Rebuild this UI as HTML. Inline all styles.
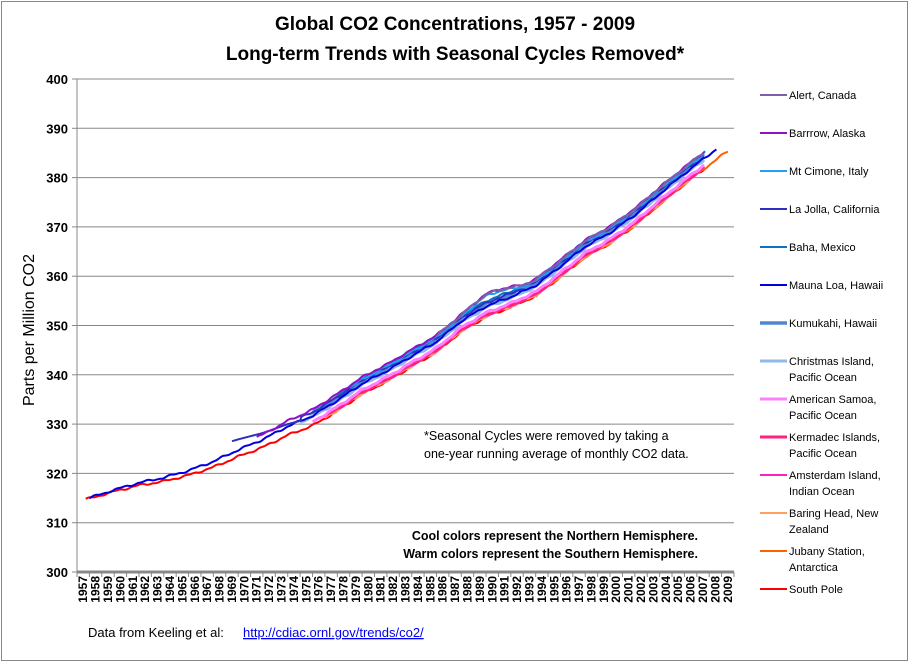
<!DOCTYPE html>
<html><head><meta charset="utf-8"><style>
body{margin:0;background:#fff;}
svg{display:block;font-family:"Liberation Sans",sans-serif;}
</style></head><body>
<svg id="s" width="910" height="663" viewBox="0 0 910 663" xmlns="http://www.w3.org/2000/svg">
<rect x="1.5" y="1.5" width="906" height="659" fill="#fff" stroke="#888" stroke-width="1"/>
<text x="455" y="30" text-anchor="middle" font-size="19" font-weight="bold">Global CO2 Concentrations, 1957 - 2009</text>
<text x="455" y="60" text-anchor="middle" font-size="19" font-weight="bold">Long-term Trends with Seasonal Cycles Removed*</text>
<text transform="translate(34,330) rotate(-90)" text-anchor="middle" font-size="16">Parts per Million CO2</text>
<g id="grid"></g>
<g id="series" fill="none" stroke-linejoin="round"></g>
<text x="424" y="440" font-size="12.5">*Seasonal Cycles were removed by taking a</text>
<text x="424" y="458" font-size="12.5">one-year running average of monthly CO2 data.</text>
<text x="698" y="540" text-anchor="end" font-size="12.5" font-weight="bold">Cool colors represent  the Northern Hemisphere.</text>
<text x="698" y="558" text-anchor="end" font-size="12.5" font-weight="bold">Warm colors represent the Southern Hemisphere.</text>
<g id="legend" font-size="11"></g>
<text x="88" y="637" font-size="13">Data from Keeling et al:</text>
<text x="243" y="637" font-size="13" fill="#0000ee" text-decoration="underline">http://cdiac.ornl.gov/trends/co2/</text>
</svg>
<script>
var NS="http://www.w3.org/2000/svg";
function el(t,a,p,txt){var e=document.createElementNS(NS,t);for(var k in a)e.setAttribute(k,a[k]);if(txt)e.textContent=txt;p.appendChild(e);return e;}
var g=document.getElementById('grid');
var X0=77,X1=734,Y0=572;
function Y(v){return 572-(v-300)*4.93;}
function X(yr){return X0+(yr-1957+0.5)*(X1-X0)/53;}
for(var v=300;v<=400;v+=10){var y=Y(v);
 if(v>300)el('line',{x1:X0,y1:y,x2:X1,y2:y,stroke:'#888','stroke-width':1},g);
 el('line',{x1:X0-5,y1:y,x2:X0,y2:y,stroke:'#888'},g);
 el('text',{x:X0-9,y:y+5,'text-anchor':'end','font-size':13,'font-weight':'bold'},g,String(v));}
el('line',{x1:X0,y1:Y(400),x2:X0,y2:Y0,stroke:'#888','stroke-width':1},g);
el('line',{x1:X0,y1:Y0,x2:X1,y2:Y0,stroke:'#888','stroke-width':3},g);
for(var i=0;i<=53;i++){var x=X0+i*(X1-X0)/53;el('line',{x1:x,y1:Y0,x2:x,y2:Y0+5,stroke:'#888'},g);}
for(var yr=1957;yr<=2009;yr++){var x=X(yr)+4;
 el('text',{transform:'translate('+x+',576) rotate(-90)','text-anchor':'end','font-size':12,'font-weight':'bold'},g,String(yr));}
var T=[[1957,314.3],[1958,315.0],[1960,316.6],[1962,318.0],[1964,319.0],[1966,320.4],[1968,322.2],[1970,324.5],[1972,326.6],[1974,329.2],[1976,331.3],[1978,334.4],[1980,337.8],[1982,340.4],[1984,343.4],[1986,346.3],[1988,350.5],[1990,353.5],[1992,355.4],[1994,357.7],[1996,361.6],[1998,365.6],[2000,368.4],[2002,372.0],[2004,376.3],[2006,380.4],[2008,384.3],[2010,388.0]];
function f(y){for(var i=0;i<T.length-1;i++){if(y<=T[i+1][0]){var t=(y-T[i][0])/(T[i+1][0]-T[i][0]);return T[i][1]+t*(T[i+1][1]-T[i][1]);}}return T[T.length-1][1];}
var S=[
["Alert, Canada","#7f60a8",2,1986,2007.6,1.6,1],
["Barrrow, Alaska","#9010c8",2,1971.5,2007.6,1.7,2],
["Mt Cimone,  Italy","#20a0f0",2,1979,2007.6,1.3,3],
["La Jolla, California","#3030c0",2,1969.5,2007.6,1.1,4],
["Baha, Mexico","#1070c0",2,1978,2007.7,1.5,5],
["Mauna Loa, Hawaii","#0000e0",2,1958,2008.6,0.4,6],
["Kumukahi, Hawaii","#5088d0",3.5,1976,2007.6,1.0,7],
["Christmas Island,|Pacific Ocean","#90b8e8",3,1975,2007.6,0.2,8],
["American Samoa,|Pacific Ocean","#ff80ff",3,1976,2007.6,-0.9,9],
["Kermadec Islands,|Pacific Ocean","#ff2080",3,1977,2007.6,-1.3,10],
["Amsterdam Island,|Indian Ocean","#ff20c0",2,1980,2007.6,-1.4,11],
["Baring Head, New|Zealand","#ffa060",2,1977,2007.6,-1.6,12],
["Jubany Station,|Antarctica","#ff6000",2,1994,2009.5,-1.7,13],
["South Pole","#ff0000",2,1957.7,2007.7,-1.7,14]];
var sg=document.getElementById('series');
var order=[13,12,11,10,9,8,7,6,5,4,3,2,1,0];
order.forEach(function(k){var s=S[k];var pts=[];
 for(var y=s[3];y<=s[4]+0.001;y+=1/12){var v=f(y)+s[5]*Math.min(1,(y-1957)/20)+0.15*Math.sin(y*3.1+s[6])+0.08*Math.sin(y*7.3+s[6]*2);
  if(k==3&&y<1975)v=f(y)+2.2*(1975-y)/5.5+0.4; 
  if(k<3&&y>1988&&y<1993)v+=1.2*Math.sin((y-1988)/5*Math.PI);
  pts.push(X(y-0.5).toFixed(1)+','+Y(v).toFixed(1));}
 el('polyline',{points:pts.join(' '),stroke:s[1],'stroke-width':s[2]},sg);});
var lg=document.getElementById('legend');
var ly=[95,133,171,209,247,285,323,361,399,437,475,513,551,589];
S.forEach(function(s,i){var y=ly[i];var parts=s[0].split('|');
 el('line',{x1:760,y1:y,x2:787,y2:y,stroke:s[1],'stroke-width':s[2]},lg);
 parts.forEach(function(p,j){el('text',{x:789,y:y+4+j*16},lg,p);});});
</script>
</body></html>
